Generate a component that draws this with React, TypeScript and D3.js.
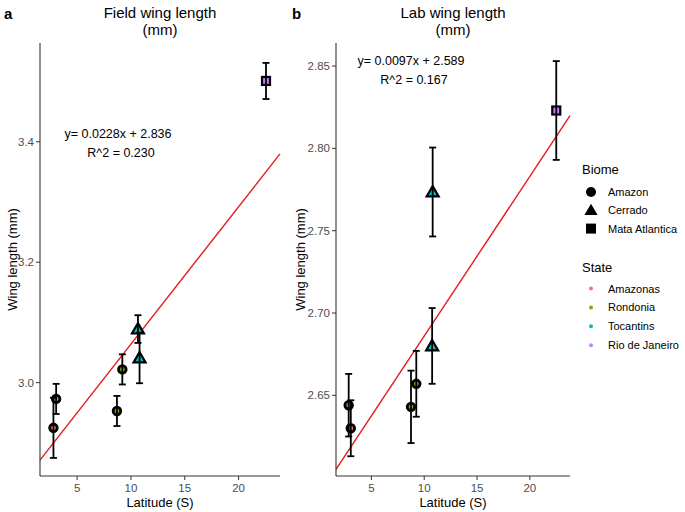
import * as d3 from "d3";
import React from "react";

// shared latitudes (S) for the seven populations
const latitude = [2.8, 3.05, 8.7, 9.2, 10.65, 10.8, 22.55];
const biome = ["Amazon", "Amazon", "Amazon", "Amazon", "Cerrado", "Cerrado", "Mata Atlantica"];
const state = ["Amazonas", "Amazonas", "Rondonia", "Rondonia", "Tocantins", "Tocantins", "Rio de Janeiro"];

// field wing length mean and error
const fieldMean = [2.925, 2.973, 2.953, 3.022, 3.089, 3.041, 3.501];
const fieldErr = [0.05, 0.025, 0.025, 0.025, 0.023, 0.042, 0.03];

// lab wing length mean and error (lab latitudes slightly differ)
const labLatitude = [2.85, 3.05, 8.75, 9.25, 10.75, 10.8, 22.5];
const labMean = [2.644, 2.63, 2.643, 2.657, 2.68, 2.7735, 2.823];
const labErr = [0.019, 0.017, 0.022, 0.02, 0.023, 0.027, 0.03];

const biomeNames = ["Amazon", "Cerrado", "Mata Atlantica"];
const stateNames = ["Amazonas", "Rondonia", "Tocantins", "Rio de Janeiro"];
const stateColors = ["#F8766D", "#7CAE00", "#00BFC4", "#C77CFF"];

const xTicks = [5, 10, 15, 20];
const fieldTicks = [3.0, 3.2, 3.4];
const labTicks = [2.65, 2.7, 2.75, 2.8, 2.85];

const FONT = "'Liberation Sans', Arial, sans-serif";
const colorScale = d3.scaleOrdinal<string, string>().domain(stateNames).range(stateColors);

function Marker({ shape, cx, cy, fill }: { shape: string; cx: number; cy: number; fill: string }) {
  if (shape === "Amazon") {
    return <circle cx={cx} cy={cy} r={3.8} fill={fill} stroke="#000" strokeWidth={2.8} />;
  }
  if (shape === "Cerrado") {
    const s = d3.symbol().type(d3.symbolTriangle).size(62)()!;
    return <path d={s} transform={`translate(${cx},${cy + 1})`} fill={fill} stroke="#000" strokeWidth={2.2} />;
  }
  return <rect x={cx - 4} y={cy - 4} width={8} height={8} fill={fill} stroke="#000" strokeWidth={2.2} />;
}

function Panel(props: {
  left: number; right: number; top: number; bottom: number;
  xDomain: [number, number]; yDomain: [number, number];
  xs: number[]; means: number[]; errs: number[]; yTicks: number[]; tickFmt: (v: number) => string;
  slope: number; intercept: number; eq: string; r2: string; eqX: number; eqY: number;
  title: string; tag: string; tagX: number; yLabelX: number;
}) {
  const x = d3.scaleLinear().domain(props.xDomain).range([props.left, props.right]);
  const y = d3.scaleLinear().domain(props.yDomain).range([props.bottom, props.top]);
  const [x0, x1] = props.xDomain;
  const line = d3.line<number>().x((d) => x(d)).y((d) => y(props.slope * d + props.intercept));
  const mid = (props.left + props.right) / 2;
  const axisColor = "#333";
  return (
    <g fontFamily={FONT}>
      <text x={props.tagX} y={19} fontSize={15} fontWeight="bold">{props.tag}</text>
      <text x={mid} y={18} fontSize={15} textAnchor="middle">{props.title}</text>
      <text x={mid} y={35} fontSize={15} textAnchor="middle">(mm)</text>
      {/* regression line */}
      <path d={line([x0, x1]) || ""} stroke="#E41A1C" strokeWidth={1.4} fill="none" />
      {/* points */}
      {props.xs.map((lx, i) => (
        <Marker key={"m" + i} shape={biome[i]} cx={x(lx)} cy={y(props.means[i])} fill={colorScale(state[i])} />
      ))}
      {/* error bars on top */}
      {props.xs.map((lx, i) => {
        const cx = x(lx);
        const hi = y(props.means[i] + props.errs[i]);
        const lo = y(props.means[i] - props.errs[i]);
        return (
          <g key={"e" + i} stroke="#000" strokeWidth={1.8}>
            <line x1={cx} x2={cx} y1={hi} y2={lo} />
            <line x1={cx - 3.5} x2={cx + 3.5} y1={hi} y2={hi} />
            <line x1={cx - 3.5} x2={cx + 3.5} y1={lo} y2={lo} />
          </g>
        );
      })}
      {/* axes */}
      <line x1={props.left} x2={props.left} y1={props.top} y2={props.bottom} stroke={axisColor} strokeWidth={1.1} />
      <line x1={props.left} x2={props.right} y1={props.bottom} y2={props.bottom} stroke={axisColor} strokeWidth={1.1} />
      {xTicks.map((t) => (
        <g key={"xt" + t}>
          <line x1={x(t)} x2={x(t)} y1={props.bottom} y2={props.bottom + 4} stroke={axisColor} />
          <text x={x(t)} y={492} fontSize={11.5} fill="#4D4D4D" textAnchor="middle">{t}</text>
        </g>
      ))}
      {props.yTicks.map((t) => (
        <g key={"yt" + t}>
          <line x1={props.left - 4} x2={props.left} y1={y(t)} y2={y(t)} stroke={axisColor} />
          <text x={props.left - 6} y={y(t) + 4} fontSize={11.5} fill="#4D4D4D" textAnchor="end">{props.tickFmt(t)}</text>
        </g>
      ))}
      <text x={mid} y={507} fontSize={13} textAnchor="middle">Latitude (S)</text>
      <text transform={`translate(${props.yLabelX},${(props.top + props.bottom) / 2}) rotate(-90)`} fontSize={13} textAnchor="middle">Wing length (mm)</text>
      <text x={props.eqX} y={props.eqY} fontSize={12.5} textAnchor="middle">{props.eq}</text>
      <text x={props.eqX + 3} y={props.eqY + 19} fontSize={12.5} textAnchor="middle">{props.r2}</text>
    </g>
  );
}

function Legend() {
  const lx = 591;
  return (
    <g fontFamily={FONT}>
      <text x={582} y={174} fontSize={13}>Biome</text>
      {biomeNames.map((b, i) => {
        const cy = 192 + i * 18.3;
        return (
          <g key={b}>
            {b === "Amazon" && <circle cx={lx} cy={cy} r={5} fill="#000" />}
            {b === "Cerrado" && <path d={d3.symbol().type(d3.symbolTriangle).size(75)()!} transform={`translate(${lx},${cy + 1})`} fill="#000" />}
            {b === "Mata Atlantica" && <rect x={lx - 5} y={cy - 5} width={10} height={10} fill="#000" />}
            <text x={608} y={cy + 4} fontSize={11}>{b}</text>
          </g>
        );
      })}
      <text x={582} y={272} fontSize={13}>State</text>
      {stateNames.map((s, i) => {
        const cy = 288.5 + i * 18.9;
        return (
          <g key={s}>
            <circle cx={lx} cy={cy} r={2} fill={colorScale(s)} />
            <text x={608} y={cy + 4} fontSize={11}>{s}</text>
          </g>
        );
      })}
    </g>
  );
}

export default function App() {
  return (
    <svg width={685} height={512} style={{ position: "absolute", left: 0, top: 0, background: "#fff" }}>
      <Panel
        left={40} right={280} top={43} bottom={476}
        xDomain={[1.55, 23.85]} yDomain={[2.845, 3.564]}
        xs={latitude} means={fieldMean} errs={fieldErr}
        yTicks={fieldTicks} tickFmt={d3.format(".1f")}
        slope={0.0228} intercept={2.836}
        eq="y= 0.0228x + 2.836" r2="R^2 = 0.230" eqX={118} eqY={138}
        title="Field wing length" tag="a" tagX={4} yLabelX={17}
      />
      <Panel
        left={336} right={570} top={43} bottom={476}
        xDomain={[1.65, 23.8]} yDomain={[2.601, 2.864]}
        xs={labLatitude} means={labMean} errs={labErr}
        yTicks={labTicks} tickFmt={d3.format(".2f")}
        slope={0.0097} intercept={2.589}
        eq="y= 0.0097x + 2.589" r2="R^2 = 0.167" eqX={411} eqY={65}
        title="Lab wing length" tag="b" tagX={292} yLabelX={305}
      />
      <Legend />
    </svg>
  );
}
